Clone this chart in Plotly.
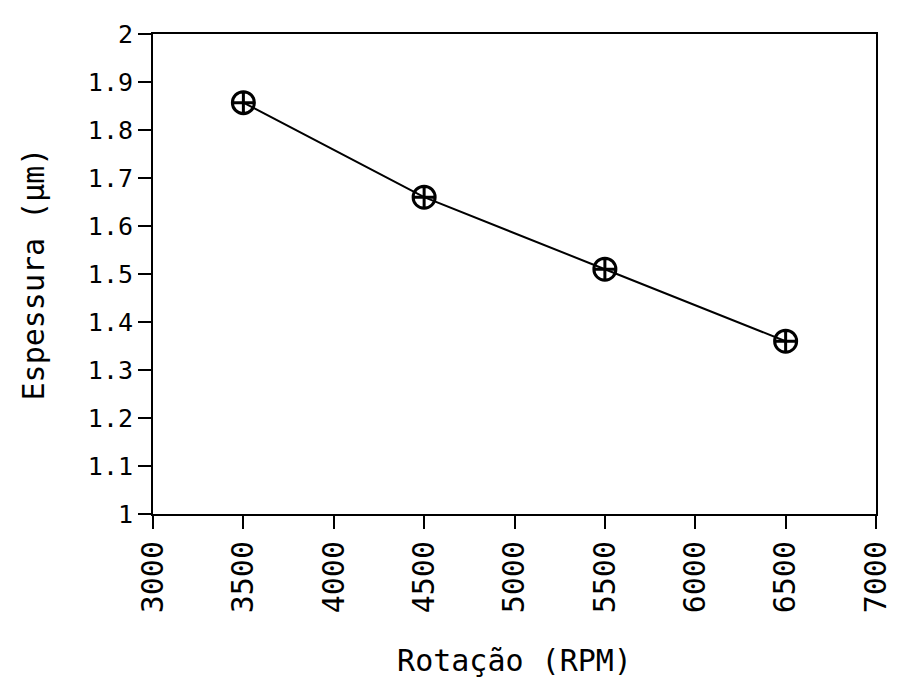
import plotly.graph_objects as go

rotacao = [3500, 4500, 5500, 6500]
espessura = [1.857, 1.66, 1.51, 1.36]
x_ticks = [3000, 3500, 4000, 4500, 5000, 5500, 6000, 6500, 7000]
y_ticks = [1, 1.1, 1.2, 1.3, 1.4, 1.5, 1.6, 1.7, 1.8, 1.9, 2]
y_labels = ["1", "1.1", "1.2", "1.3", "1.4", "1.5", "1.6", "1.7", "1.8", "1.9", "2"]

fig = go.Figure()
fig.add_trace(go.Scatter(
    x=rotacao, y=espessura, mode="lines+markers",
    line=dict(color="black", width=2),
    marker=dict(symbol="circle-cross-open", size=22, color="black", line=dict(width=3, color="black")),
    showlegend=False,
))

ytickfont = dict(family="DejaVu Sans Mono", size=25, color="black")
xtickfont = dict(family="DejaVu Sans Mono", size=30, color="black")
titlefont = dict(family="DejaVu Sans Mono", size=30, color="black")
fig.update_layout(
    width=897, height=679,
    margin=dict(l=145, r=18, t=26, b=173),
    paper_bgcolor="white", plot_bgcolor="white",
    font=ytickfont,
)
fig.update_xaxes(
    range=[3000, 7000], tickvals=x_ticks, ticktext=[str(v) for v in x_ticks],
    tickangle=-90, ticks="outside", ticklen=13, tickwidth=2, tickcolor="black",
    showline=True, linecolor="black", linewidth=2, mirror=True,
    showgrid=False, zeroline=False, tickfont=xtickfont,
    title=dict(text="Rotação (RPM)", font=titlefont, standoff=38),
)
fig.update_yaxes(
    range=[1, 2], tickvals=y_ticks, ticktext=y_labels,
    ticks="outside", ticklen=13, tickwidth=2, tickcolor="black",
    showline=True, linecolor="black", linewidth=2, mirror=True,
    showgrid=False, zeroline=False, tickfont=ytickfont,
    title=dict(text="Espessura (µm)", font=titlefont, standoff=34),
)
fig.write_html("out.html")
